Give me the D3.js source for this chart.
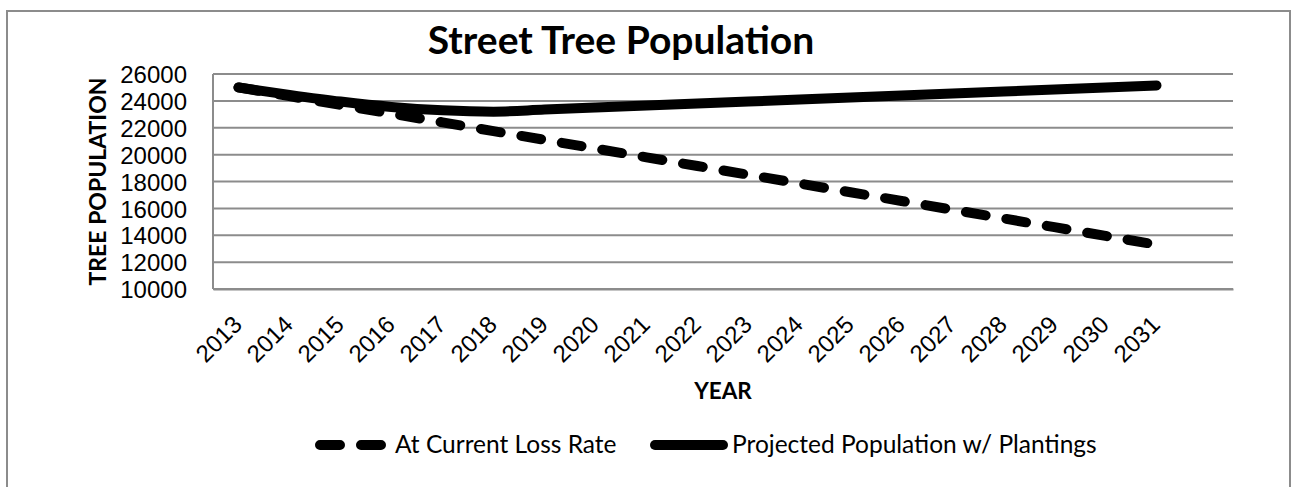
<!DOCTYPE html>
<html>
<head>
<meta charset="utf-8">
<script src="https://cdn.jsdelivr.net/npm/d3@7"></script>
<style>
  body { margin: 0; background: #fff; }
  svg { display: block; font-family: Lato, "Noto Sans", sans-serif; }
  .grid line { stroke: #8c8c8c; stroke-width: 2px; }
  .axis path, .axis line { stroke: #8c8c8c; stroke-width: 2px; }
  .axis text { fill: #000; }
</style>
</head>
<body>
<div id="chart"></div>
<script>
// data
var years = ["2013", "2014", "2015", "2016", "2017", "2018", "2019", "2020", "2021", "2022",
             "2023", "2024", "2025", "2026", "2027", "2028", "2029", "2030", "2031"];
// the category axis leaves one empty slot after 2031
var slots = years.concat([""]);

var currentLossRate = [25000, 24350, 23700, 23050, 22400, 21750, 21100, 20450, 19800, 19150,
                       18500, 17850, 17200, 16550, 15900, 15250, 14600, 13950, 13300];
var withPlantings = [25000, 24450, 23950, 23550, 23300, 23200, 23350, 23500, 23650, 23800,
                     23950, 24100, 24250, 24400, 24550, 24700, 24850, 25000, 25150];

var yTicks = [10000, 12000, 14000, 16000, 18000, 20000, 22000, 24000, 26000];

var seriesNames = ["At Current Loss Rate", "Projected Population w/ Plantings"];

var W = 1297, H = 487;
var plot = {left: 213, right: 1233, top: 74, bottom: 289};

var svg = d3.select("#chart").append("svg")
    .attr("width", W)
    .attr("height", H);

// outer chart frame (bottom edge runs off the picture)
svg.append("rect")
    .attr("x", 7).attr("y", 11)
    .attr("width", 1283).attr("height", 520)
    .attr("fill", "none")
    .attr("stroke", "#8c8c8c")
    .attr("stroke-width", 2);

var x = d3.scaleBand()
    .domain(slots)
    .range([plot.left, plot.right]);

var y = d3.scaleLinear()
    .domain([10000, 26000])
    .range([plot.bottom, plot.top]);

// horizontal gridlines
svg.append("g")
    .attr("class", "grid")
    .selectAll("line")
    .data(yTicks)
    .join("line")
    .attr("x1", plot.left)
    .attr("x2", plot.right)
    .attr("y1", function(d) { return y(d); })
    .attr("y2", function(d) { return y(d); });

// y axis
var yAxis = d3.axisLeft(y)
    .tickValues(yTicks)
    .tickFormat(d3.format("d"))
    .tickSize(0)
    .tickPadding(26);

svg.append("g")
    .attr("class", "axis y")
    .attr("transform", "translate(" + plot.left + ",0)")
    .call(yAxis)
    .call(function(g) { g.select(".domain").attr("d", "M0," + plot.top + "V" + plot.bottom); })
    .selectAll("text")
    .attr("font-size", 24)
    .attr("dy", "0.36em");

// x axis
var xAxis = d3.axisBottom(x)
    .tickSize(0)
    .tickSizeOuter(0);

svg.append("g")
    .attr("class", "axis x")
    .attr("transform", "translate(0," + plot.bottom + ")")
    .call(xAxis)
    .selectAll("text")
    .attr("font-size", 24)
    .attr("text-anchor", "end")
    .attr("y", 0)
    .attr("dy", 0)
    .attr("transform", "translate(5,37) rotate(-45)");

// series lines
var line = d3.line()
    .x(function(d, i) { return x(years[i]) + x.bandwidth() / 2; })
    .y(function(d) { return y(d); });

svg.append("path")
    .datum(currentLossRate)
    .attr("fill", "none")
    .attr("stroke", "#000")
    .attr("stroke-width", 10)
    .attr("stroke-linecap", "round")
    .attr("stroke-linejoin", "round")
    .attr("stroke-dasharray", "20,21")
    .attr("d", line);

svg.append("path")
    .datum(withPlantings)
    .attr("fill", "none")
    .attr("stroke", "#000")
    .attr("stroke-width", 10)
    .attr("stroke-linecap", "round")
    .attr("stroke-linejoin", "round")
    .attr("d", line.curve(d3.curveMonotoneX));

// titles
svg.append("text")
    .attr("x", 621)
    .attr("y", 54)
    .attr("text-anchor", "middle")
    .attr("font-size", 39)
    .attr("font-weight", "bold")
    .text("Street Tree Population");

svg.append("text")
    .attr("transform", "translate(106," + ((plot.top + plot.bottom) / 2) + ") rotate(-90)")
    .attr("text-anchor", "middle")
    .attr("font-size", 23)
    .attr("font-weight", "bold")
    .text("TREE POPULATION");

svg.append("text")
    .attr("x", (plot.left + plot.right) / 2)
    .attr("y", 399)
    .attr("text-anchor", "middle")
    .attr("font-size", 22.5)
    .attr("font-weight", "bold")
    .text("YEAR");

// legend
var legendY = 445;
var legend = [
    {name: seriesNames[0], x1: 320, x2: 385, dash: "20,21", tx: 395},
    {name: seriesNames[1], x1: 655, x2: 723, dash: null, tx: 732}
];

var lg = svg.append("g").selectAll("g")
    .data(legend)
    .join("g");

lg.append("line")
    .attr("x1", function(d) { return d.x1; })
    .attr("x2", function(d) { return d.x2; })
    .attr("y1", legendY)
    .attr("y2", legendY)
    .attr("stroke", "#000")
    .attr("stroke-width", 10)
    .attr("stroke-linecap", "round")
    .attr("stroke-dasharray", function(d) { return d.dash; });

lg.append("text")
    .attr("x", function(d) { return d.tx; })
    .attr("y", legendY + 8)
    .attr("font-size", 24.5)
    .text(function(d) { return d.name; });
</script>
</body>
</html>
